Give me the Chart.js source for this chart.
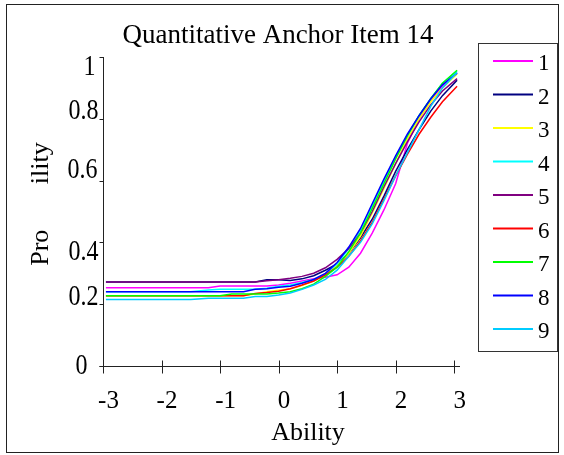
<!DOCTYPE html>
<html>
<head>
<meta charset="utf-8">
<script src="https://cdn.jsdelivr.net/npm/chart.js@4/dist/chart.umd.min.js"></script>
<style>
  html, body { margin: 0; padding: 0; background: #fff; }
  #c { display: block; }
</style>
</head>
<body>
<canvas id="c" width="564" height="455"></canvas>
<script>
// Ability points (x) shared by all nine curves
const abilities = [-2.95, -2.5, -2, -1.5, -1.2, -1.0, -0.8, -0.6, -0.4, -0.2, 0, 0.2, 0.4, 0.6,
                   0.8, 1.0, 1.2, 1.4, 1.6, 1.8, 2.0, 2.2, 2.4, 2.6, 2.8, 3.05];
const seriesNames = ['1', '2', '3', '4', '5', '6', '7', '8', '9'];

const s1 = [0.253,0.253,0.253,0.253,0.253,0.259,0.259,0.259,0.259,0.259,0.262,0.268,0.275,0.282,0.287,0.295,0.32,0.365,0.43,0.505,0.59,0.72,0.80,0.86,0.905,0.948];
const s2 = [0.272,0.272,0.272,0.272,0.272,0.272,0.272,0.272,0.272,0.279,0.279,0.277,0.282,0.292,0.31,0.33,0.365,0.415,0.475,0.55,0.63,0.70,0.765,0.825,0.875,0.925];
const s3 = [0.227,0.227,0.227,0.227,0.227,0.227,0.227,0.227,0.233,0.24,0.245,0.25,0.26,0.275,0.295,0.325,0.365,0.42,0.495,0.575,0.655,0.735,0.80,0.855,0.90,0.945];
const s4 = [0.240,0.240,0.240,0.240,0.246,0.248,0.248,0.248,0.248,0.252,0.258,0.262,0.27,0.28,0.298,0.33,0.38,0.44,0.52,0.60,0.675,0.745,0.81,0.865,0.915,0.955];
const s5 = [0.272,0.272,0.272,0.272,0.272,0.272,0.272,0.272,0.272,0.276,0.279,0.284,0.29,0.30,0.318,0.345,0.38,0.43,0.50,0.58,0.655,0.725,0.79,0.845,0.89,0.93];
const s6 = [0.227,0.227,0.227,0.227,0.227,0.227,0.227,0.227,0.235,0.238,0.242,0.25,0.262,0.275,0.295,0.32,0.355,0.405,0.465,0.54,0.615,0.685,0.75,0.805,0.855,0.905];
const s7 = [0.227,0.227,0.227,0.227,0.227,0.227,0.233,0.233,0.233,0.233,0.236,0.24,0.25,0.265,0.29,0.32,0.37,0.43,0.51,0.59,0.67,0.745,0.81,0.865,0.915,0.957];
const s8 = [0.240,0.240,0.240,0.240,0.240,0.240,0.240,0.240,0.248,0.250,0.255,0.258,0.268,0.28,0.30,0.335,0.385,0.445,0.525,0.605,0.68,0.75,0.81,0.865,0.91,0.948];
const s9 = [0.215,0.215,0.215,0.215,0.219,0.219,0.219,0.219,0.225,0.225,0.23,0.236,0.248,0.262,0.28,0.31,0.355,0.40,0.46,0.535,0.615,0.69,0.765,0.84,0.90,0.95];

const xTicks = [-3, -2, -1, 0, 1, 2, 3];
const yTicks = [0, 0.2, 0.4, 0.6, 0.8, 1];
const yTickLabels = ['0', '0.2', '0.4', '0.6', '0.8', '1'];

const colors = ['#ff00ff', '#000080', '#ffff00', '#00ffff', '#800080', '#ff0000', '#00ff00', '#0000ff', '#00ccff'];
// the source places its value labels a little off their ticks
const yLabelNudge = [[-11, 0], [0, -7], [0, 10], [-1, -10], [0, -8], [-3, 10]];
const serif = '"Liberation Serif", "Times New Roman", serif';

const allSeries = [s1, s2, s3, s4, s5, s6, s7, s8, s9];

const decor = {
  id: 'decor',
  beforeDraw(chart) {
    const ctx = chart.ctx;
    ctx.save();
    ctx.fillStyle = '#fff';
    ctx.fillRect(0, 0, chart.width, chart.height);
    ctx.restore();
  },
  afterDraw(chart) {
    const ctx = chart.ctx;
    const xs = chart.scales.x, ys = chart.scales.y;
    const x0 = Math.round(xs.getPixelForValue(-3)) + 0.5;
    const y0 = Math.round(ys.getPixelForValue(0)) + 0.5;
    ctx.save();
    ctx.strokeStyle = '#222';
    ctx.lineWidth = 1;
    // axes
    ctx.beginPath();
    ctx.moveTo(x0, Math.round(ys.getPixelForValue(1)));
    ctx.lineTo(x0, y0);
    ctx.moveTo(x0 - 4, y0);
    ctx.lineTo(Math.round(xs.right), y0);
    yTicks.forEach(v => {
      const y = Math.round(ys.getPixelForValue(v)) + 0.5;
      ctx.moveTo(x0 - 4, y); ctx.lineTo(x0, y);
    });
    xTicks.forEach(v => {
      const x = Math.round(xs.getPixelForValue(v)) + 0.5;
      ctx.moveTo(x, y0 - 6); ctx.lineTo(x, y0 + 7);
    });
    ctx.stroke();

    ctx.fillStyle = '#000';
    // x tick labels
    ctx.font = '25px ' + serif;
    ctx.textAlign = 'center';
    ctx.textBaseline = 'alphabetic';
    xTicks.forEach(v => {
      ctx.fillText(String(v), xs.getPixelForValue(v) + 5.5, 408);
    });
    // y tick labels (a bit taller than wide in the source)
    ctx.font = '24px ' + serif;
    ctx.textAlign = 'right';
    ctx.textBaseline = 'middle';
    yTicks.forEach((v, i) => {
      const n = yLabelNudge[i];
      ctx.save();
      ctx.translate(x0 - 5 + n[0], ys.getPixelForValue(v) + n[1]);
      ctx.scale(1, 1.25);
      ctx.fillText(yTickLabels[i], 0, 0);
      ctx.restore();
    });
    // titles
    ctx.textAlign = 'center';
    ctx.textBaseline = 'alphabetic';
    ctx.font = '27px ' + serif;
    ctx.fillText('Quantitative Anchor Item 14', 278, 43);
    ctx.font = '26px ' + serif;
    ctx.fillText('Ability', 308, 440);
    ctx.save();
    ctx.translate(48, 204);
    ctx.rotate(-Math.PI / 2);
    ctx.fillText('Pro       ility', 0, 0);
    ctx.restore();

    // legend
    ctx.strokeStyle = '#333';
    ctx.strokeRect(478.5, 43.5, 79, 308);
    ctx.font = '23px ' + serif;
    ctx.textAlign = 'left';
    ctx.textBaseline = 'middle';
    chart.data.datasets.forEach((ds, i) => {
      const y = 61 + i * 33.5;
      ctx.strokeStyle = ds.borderColor;
      ctx.lineWidth = 2;
      ctx.beginPath();
      ctx.moveTo(493, y); ctx.lineTo(533, y);
      ctx.stroke();
      ctx.fillStyle = '#000';
      ctx.fillText(ds.label, 538, y + 3);
    });

    // outer frame
    ctx.strokeStyle = '#222';
    ctx.lineWidth = 1;
    ctx.strokeRect(6.5, 4.5, 552, 448);
    ctx.restore();
  }
};

new Chart(document.getElementById('c'), {
  type: 'line',
  data: {
    datasets: allSeries.map((vals, i) => ({
      label: seriesNames[i],
      data: abilities.map((a, j) => ({ x: a, y: vals[j] })),
      borderColor: colors[i],
      borderWidth: 1.5,
      pointRadius: 0,
      tension: 0,
      fill: false,
      order: 9 - i
    }))
  },
  options: {
    responsive: false,
    animation: false,
    devicePixelRatio: 1,
    layout: { padding: { left: 103, top: 57, right: 104, bottom: 89 } },
    plugins: { legend: { display: false }, title: { display: false }, tooltip: { enabled: false } },
    scales: {
      x: { type: 'linear', min: -3, max: 3.1, display: false },
      y: { type: 'linear', min: 0, max: 1, display: false }
    }
  },
  plugins: [decor]
});
</script>
</body>
</html>
